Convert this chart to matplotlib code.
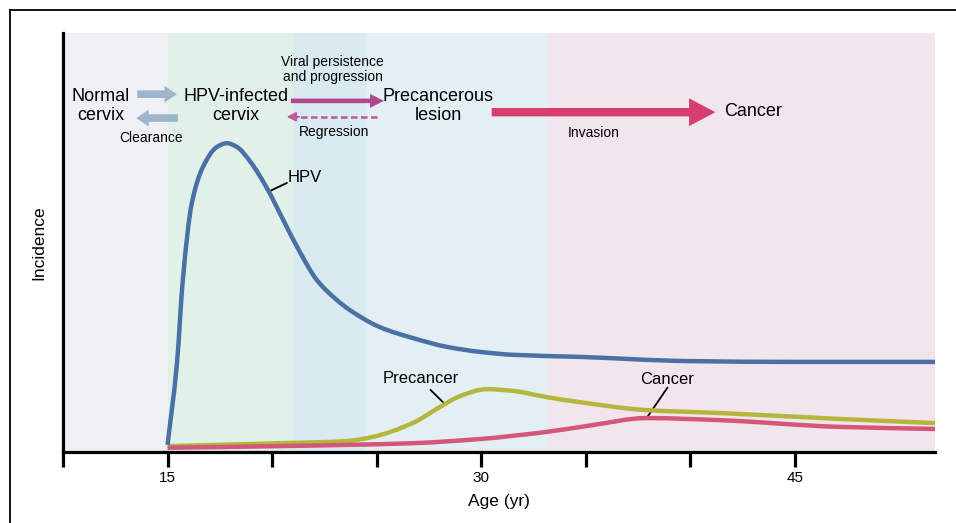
import matplotlib
matplotlib.use('Agg')
import matplotlib.pyplot as plt
from matplotlib.lines import Line2D
from matplotlib.path import Path
from matplotlib.patches import PathPatch

plt.rcParams['font.family'] = ['Liberation Sans', 'DejaVu Sans']

# --- DATA (age in years, incidence in arbitrary units 0-100) ---
hpv_age = [15.0, 15.45, 15.73, 16.16, 16.69, 17.36, 17.84, 18.32, 18.94, 19.75,
           20.51, 21.32, 22.13, 23.09, 23.71, 25.15, 26.73, 28.35, 29.93, 31.5,
           34.7, 39.9, 45.2, 51.7]
hpv_inc = [1.7, 21.2, 41.1, 59.4, 68.0, 72.8, 73.7, 72.8, 69.4, 63.0,
           55.6, 47.8, 41.1, 36.3, 33.9, 29.8, 27.2, 25.1, 23.9, 23.2,
           22.7, 21.7, 21.5, 21.5]

pre_age = [15.0, 20.37, 23.57, 24.81, 26.72, 28.01, 28.97, 30.26, 31.5, 33.13,
           34.7, 37.9, 41.4, 47.1, 51.7]
pre_inc = [1.4, 2.1, 2.6, 3.6, 6.9, 10.7, 13.3, 15.0, 14.6, 13.1,
           11.9, 10.0, 9.3, 7.9, 6.9]

can_age = [15.0, 20.37, 26.72, 29.93, 33.13, 35.3, 37.9, 41.4, 47.1, 51.7]
can_inc = [1.0, 1.4, 2.1, 3.1, 4.8, 6.4, 8.1, 7.6, 6.0, 5.5]

# background phases
phase_edges = [10, 15, 21.0, 24.5, 33.2, 51.7]
phase_colors = ['#eef1f4', '#e2f0ea', '#d9ebf1', '#e4eff3', '#f1e5ee']

tick_ages = [10, 15, 20, 25, 30, 35, 40, 45]
tick_labels = ['', '15', '', '', '30', '', '', '45']

C_HPV = '#4a70a6'
C_PRE = '#b4b73c'
C_CAN = '#d45679'


def smooth_curve(ax, xs, ys, color, lw=3.2, z=3):
    """Draw the read points as a smooth monotone (PCHIP-like) bezier path."""
    n = len(xs)
    d = [(ys[i + 1] - ys[i]) / (xs[i + 1] - xs[i]) for i in range(n - 1)]
    m = [d[0]]
    for i in range(1, n - 1):
        if d[i - 1] * d[i] <= 0:
            m.append(0.0)
        else:
            h0 = xs[i] - xs[i - 1]
            h1 = xs[i + 1] - xs[i]
            w1, w2 = 2 * h1 + h0, h1 + 2 * h0
            m.append((w1 + w2) / (w1 / d[i - 1] + w2 / d[i]))
    m.append(d[-1])
    verts = [(xs[0], ys[0])]
    codes = [Path.MOVETO]
    for i in range(n - 1):
        h = (xs[i + 1] - xs[i]) / 3
        verts += [(xs[i] + h, ys[i] + m[i] * h),
                  (xs[i + 1] - h, ys[i + 1] - m[i + 1] * h),
                  (xs[i + 1], ys[i + 1])]
        codes += [Path.CURVE4] * 3
    ax.add_patch(PathPatch(Path(verts, codes), fill=False, edgecolor=color, lw=lw,
                           capstyle='butt', joinstyle='round', zorder=z))


fig = plt.figure(figsize=(9.56, 5.23), dpi=100)
ax = fig.add_axes([63 / 956, 1 - 452 / 523, (935 - 63) / 956, (452 - 33) / 523])

for i, col in enumerate(phase_colors):
    ax.axvspan(phase_edges[i], phase_edges[i + 1], color=col, lw=0, zorder=0)

smooth_curve(ax, pre_age, pre_inc, C_PRE)
smooth_curve(ax, can_age, can_inc, C_CAN)
smooth_curve(ax, hpv_age, hpv_inc, C_HPV, z=4)

ax.set_xlim(phase_edges[0], phase_edges[-1])
ax.set_ylim(0, 100)

for s in ['top', 'right']:
    ax.spines[s].set_visible(False)
ax.spines['left'].set_linewidth(2.3)
ax.spines['bottom'].set_linewidth(2.3)
ax.set_yticks([])
ax.set_xticks(tick_ages)
ax.set_xticklabels(tick_labels, fontsize=11)
ax.tick_params(axis='x', direction='out', length=11, width=2.3, pad=3)
ax.set_xlabel('Age (yr)', fontsize=12.5, labelpad=6)
ax.set_ylabel('Incidence', fontsize=12.5, labelpad=12)

# curve labels with leader lines
lab = 12
ax.text(20.75, 65.4, 'HPV', fontsize=lab, ha='left', va='center')
ax.plot([19.9, 20.7], [62.3, 64.2], color='black', lw=1.3)
ax.text(27.1, 17.6, 'Precancer', fontsize=lab, ha='center', va='center')
ax.plot([27.58, 28.25], [14.8, 11.5], color='black', lw=1.3)
ax.text(38.9, 17.4, 'Cancer', fontsize=lab, ha='center', va='center')
ax.plot([38.9, 37.95], [15.3, 8.4], color='black', lw=1.3)

# progression diagram
big = 13
small = 10
ax.text(11.8, 82.6, 'Normal\ncervix', fontsize=big, ha='center', va='center', linespacing=1.1)
ax.text(18.27, 82.6, 'HPV-infected\ncervix', fontsize=big, ha='center', va='center', linespacing=1.1)
ax.text(27.95, 82.6, 'Precancerous\nlesion', fontsize=big, ha='center', va='center', linespacing=1.1)
ax.text(41.6, 81.3, 'Cancer', fontsize=big, ha='left', va='center')
ax.text(22.9, 91.3, 'Viral persistence\nand progression', fontsize=small, ha='center', va='center',
        linespacing=1.1)
ax.text(14.2, 74.9, 'Clearance', fontsize=small, ha='center', va='center')
ax.text(22.95, 76.4, 'Regression', fontsize=small, ha='center', va='center')
ax.text(35.4, 76.1, 'Invasion', fontsize=small, ha='center', va='center')


def arrow(x0, x1, y, color, tail, hw, hl, scale=10):
    ax.annotate('', xy=(x1, y), xytext=(x0, y),
                arrowprops=dict(arrowstyle=f'simple,tail_width={tail},head_width={hw},head_length={hl}',
                                color=color, lw=0, shrinkA=0, shrinkB=0, mutation_scale=scale))


arrow(13.55, 15.45, 85.4, '#9db6cc', 0.55, 1.2, 0.9)
arrow(15.5, 13.5, 79.7, '#9db6cc', 0.55, 1.2, 0.9)
arrow(20.9, 25.35, 83.8, '#b0468f', 0.33, 1.0, 1.0)
arrow(30.5, 41.2, 81.1, '#d63e6e', 0.6, 2.0, 1.9)

# dashed regression arrow
ax.plot([25.0, 21.0], [80.0, 80.0], color='#c0579d', lw=1.8, ls=(0, (2.6, 1.4)))
ax.annotate('', xy=(20.7, 80.0), xytext=(21.3, 80.0),
            arrowprops=dict(arrowstyle='-|>,head_width=0.28,head_length=0.55', color='#c0579d',
                            lw=1.2, shrinkA=0, shrinkB=0, mutation_scale=10))

# image frame (top and left edges)
fig.add_artist(Line2D([10 / 956, 1], [1 - 10 / 523, 1 - 10 / 523], color='black', lw=1.3,
                      transform=fig.transFigure))
fig.add_artist(Line2D([10 / 956, 10 / 956], [0, 1 - 10 / 523], color='black', lw=1.3,
                      transform=fig.transFigure))

fig.savefig('out.png', dpi=100)
